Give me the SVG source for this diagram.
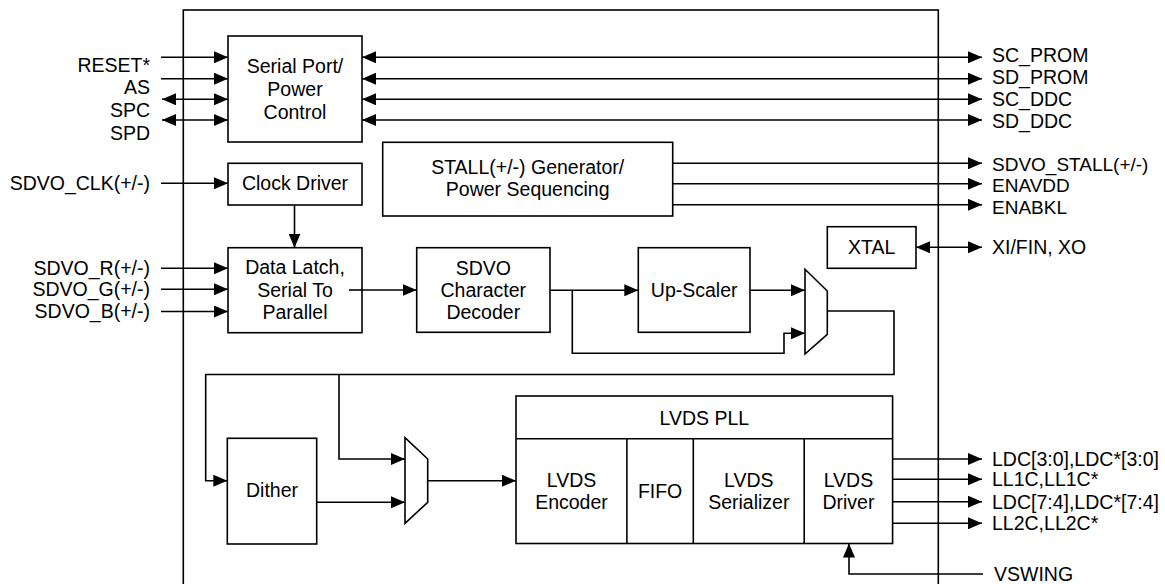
<svg xmlns="http://www.w3.org/2000/svg" width="1165" height="584" viewBox="0 0 1165 584">
<defs>
<marker id="ah" markerUnits="userSpaceOnUse" markerWidth="15" markerHeight="12" refX="14" refY="6" orient="auto-start-reverse" viewBox="0 0 15 12">
<path d="M0,0 L14,6 L0,12 z" fill="#000"/>
</marker>
<style>
.b{fill:#fff;stroke:#000;stroke-width:1.6}
.l{fill:none;stroke:#000;stroke-width:1.6}
.a{marker-end:url(#ah)}
.d{marker-start:url(#ah);marker-end:url(#ah)}
text{font-family:"Liberation Sans",Arial,sans-serif;font-size:19.5px;fill:#000}
.c{text-anchor:middle}
.r{text-anchor:end}
.s{font-size:19px}
</style>
</defs>
<rect width="1165" height="584" fill="#fff"/>
<g id="chip"><rect class="l" x="183.3" y="10" width="755" height="600"/></g>

<g id="connectors">
<line class="l a" x1="161" y1="57.3" x2="228" y2="57.3"/>
<line class="l a" x1="161" y1="78.7" x2="228" y2="78.7"/>
<line class="l d" x1="162" y1="99.3" x2="228" y2="99.3"/>
<line class="l d" x1="162" y1="120" x2="228" y2="120"/>
<line class="l d" x1="362" y1="57.3" x2="982" y2="57.3"/>
<line class="l d" x1="362" y1="78.7" x2="982" y2="78.7"/>
<line class="l d" x1="362" y1="99.3" x2="982" y2="99.3"/>
<line class="l d" x1="362" y1="120" x2="982" y2="120"/>
<line class="l a" x1="672.7" y1="163.3" x2="982" y2="163.3"/>
<line class="l a" x1="672.7" y1="183.8" x2="982" y2="183.8"/>
<line class="l a" x1="672.7" y1="204.8" x2="982" y2="204.8"/>
<line class="l d" x1="916" y1="247.3" x2="982" y2="247.3"/>
<line class="l a" x1="161" y1="183.3" x2="228" y2="183.3"/>
<line class="l a" x1="294.5" y1="205" x2="294.5" y2="247.7"/>
<line class="l a" x1="161" y1="268.3" x2="228" y2="268.3"/>
<line class="l a" x1="161" y1="289.3" x2="228" y2="289.3"/>
<line class="l a" x1="161" y1="311.5" x2="228" y2="311.5"/>
<line class="l a" x1="349" y1="290" x2="416.7" y2="290"/>
<line class="l a" x1="550" y1="290.3" x2="638.3" y2="290.3"/>
<polyline class="l a" points="572.3,290.3 572.3,353.3 784,353.3 784,333.3 805,333.3"/>
<line class="l a" x1="750" y1="290.3" x2="805" y2="290.3"/>
<polyline class="l a" points="827.3,311 894,311 894,374.5 205.7,374.5 205.7,480.7 227.3,480.7"/>
<polyline class="l a" points="339,374.5 339,459 405,459"/>
<line class="l a" x1="316.7" y1="502.3" x2="405" y2="502.3"/>
<line class="l a" x1="427.7" y1="480.7" x2="516" y2="480.7"/>
<line class="l a" x1="892.6" y1="459" x2="982" y2="459"/>
<line class="l a" x1="892.6" y1="479.3" x2="982" y2="479.3"/>
<line class="l a" x1="892.6" y1="501.7" x2="982" y2="501.7"/>
<line class="l a" x1="892.6" y1="523.3" x2="982" y2="523.3"/>
<polyline class="l a" points="983,574 849,574 849,543.5"/>
</g>

<g id="serial-port">
<rect class="b" x="228" y="36" width="134" height="106"/>
<text class="c" x="295" y="73.3">Serial Port/</text>
<text class="c" x="295" y="96.3">Power</text>
<text class="c" x="295" y="119">Control</text>
</g>
<g id="stall-gen">
<rect class="b" x="382.7" y="142.3" width="290" height="73.7"/>
<text class="c" x="527.7" y="174">STALL(+/-) Generator/</text>
<text class="c" x="527.7" y="195.5">Power Sequencing</text>
</g>
<g id="clock-driver">
<rect class="b" x="228" y="163.3" width="134" height="41.7"/>
<text class="c" x="295" y="190">Clock Driver</text>
</g>
<g id="xtal">
<rect class="b" x="827.3" y="226.7" width="88.7" height="41.6"/>
<text class="c" x="871.7" y="254">XTAL</text>
</g>
<g id="data-latch">
<rect class="b" x="228" y="247.7" width="134" height="85"/>
<text class="c" x="295" y="274">Data Latch,</text>
<text class="c" x="295" y="296.5">Serial To</text>
<text class="c" x="295" y="319">Parallel</text>
<line class="l" x1="349" y1="290" x2="362" y2="290"/>
</g>
<g id="decoder">
<rect class="b" x="416.7" y="247.7" width="133.3" height="84.6"/>
<text class="c" x="483.3" y="275">SDVO</text>
<text class="c" x="483.3" y="297">Character</text>
<text class="c" x="483.3" y="319">Decoder</text>
</g>
<g id="upscaler">
<rect class="b" x="638.3" y="247.7" width="111.7" height="84.6"/>
<text class="c" x="694.2" y="297">Up-Scaler</text>
</g>
<g id="mux1">
<polygon class="b" points="805,269.3 827.3,291 827.3,334.3 805,354"/>
</g>
<g id="dither">
<rect class="b" x="227.3" y="438.3" width="89.4" height="105.7"/>
<text class="c" x="272" y="497.3">Dither</text>
</g>
<g id="mux2">
<polygon class="b" points="405,437.7 427.7,459 427.7,502.3 405,523.3"/>
</g>
<g id="lvds">
<rect class="b" x="516" y="396" width="376.6" height="147.5"/>
<line class="l" x1="516" y1="438.7" x2="892.6" y2="438.7"/>
<line class="l" x1="626.9" y1="438.7" x2="626.9" y2="543.5"/>
<line class="l" x1="693.3" y1="438.7" x2="693.3" y2="543.5"/>
<line class="l" x1="804.2" y1="438.7" x2="804.2" y2="543.5"/>
<text class="c" x="704.3" y="425.3">LVDS PLL</text>
<text class="c" x="571.5" y="487">LVDS</text>
<text class="c" x="571.5" y="509">Encoder</text>
<text class="c" x="660.1" y="498">FIFO</text>
<text class="c" x="748.8" y="487">LVDS</text>
<text class="c" x="748.8" y="509">Serializer</text>
<text class="c" x="848.4" y="487">LVDS</text>
<text class="c" x="848.4" y="509">Driver</text>
</g>

<g id="labels">
<text class="r" x="150" y="71.7">RESET*</text>
<text class="r" x="150" y="94.3">AS</text>
<text class="r" x="150" y="117">SPC</text>
<text class="r" x="150" y="139.7">SPD</text>
<text class="r" x="150" y="190">SDVO_CLK(+/-)</text>
<text class="r" x="150" y="274.5">SDVO_R(+/-)</text>
<text class="r" x="150" y="296">SDVO_G(+/-)</text>
<text class="r" x="150" y="318.3">SDVO_B(+/-)</text>
<text x="992" y="62">SC_PROM</text>
<text x="992" y="84">SD_PROM</text>
<text x="992" y="106">SC_DDC</text>
<text x="992" y="128.3">SD_DDC</text>
<text class="s" x="992" y="170.5">SDVO_STALL(+/-)</text>
<text class="s" x="992" y="192">ENAVDD</text>
<text class="s" x="992" y="213.5">ENABKL</text>
<text x="992" y="254">XI/FIN, XO</text>
<text x="992" y="466">LDC[3:0],LDC*[3:0]</text>
<text x="992" y="486.3">LL1C,LL1C*</text>
<text x="992" y="508.7">LDC[7:4],LDC*[7:4]</text>
<text x="992" y="530.3">LL2C,LL2C*</text>
<text x="994" y="580.5">VSWING</text>
</g>
</svg>
